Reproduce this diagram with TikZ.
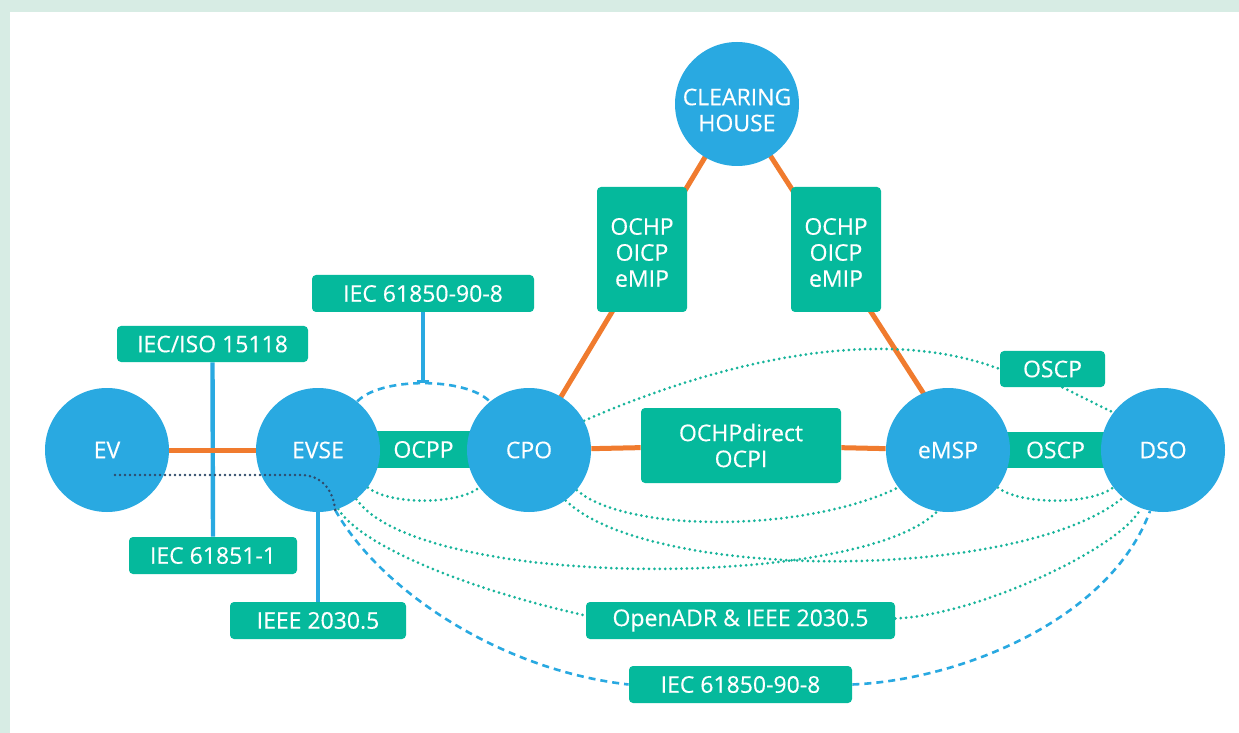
\documentclass[tikz,border=0pt]{standalone}
\usepackage{fontspec}
\setmainfont{Open Sans}
\newfontfamily\diagfont{Open Sans}[FakeBold=0.35]
\usetikzlibrary{arrows.meta}
\definecolor{mint}{HTML}{D7ECE4}
\definecolor{cblue}{HTML}{29A9E1}
\definecolor{cgreen}{HTML}{05B99C}
\definecolor{corange}{HTML}{F07B2E}
\definecolor{cteal}{HTML}{17B49B}
\definecolor{cnavy}{HTML}{2F4B6B}
\pgfdeclarelayer{frame}
\pgfdeclarelayer{lines}
\pgfsetlayers{frame,lines,main}
\begin{document}
\begin{tikzpicture}[x=0.5pt,y=-0.5pt,
  every node/.style={font=\diagfont\fontsize{11.5}{13}\selectfont, text=white, inner sep=0pt, align=center},
  every label/.style={font=\diagfont\fontsize{11.5}{13}\selectfont, text=white, inner sep=0pt, align=center},
  party/.style={circle, fill=cblue, minimum size=62pt},
  proto/.style={rectangle, rounded corners=2pt, fill=cgreen},
  band/.style={rectangle, fill=cgreen},
  link/.style={draw=corange, line width=2.5pt},
  wire/.style={draw=cblue, line width=2.2pt},
  dashwire/.style={draw=cblue, line width=1.3pt, dash pattern=on 3.5pt off 2.5pt},
  dotwire/.style={draw=cteal, line width=1.5pt, dash pattern=on 0pt off 2.7pt, line cap=round},
  navywire/.style={draw=cnavy, line width=1.4pt, dash pattern=on 0pt off 2.5pt, line cap=round}
]
\begin{pgfonlayer}{frame}
\fill[mint] (0,0) rectangle (1239,733);
\fill[white] (10,12) rectangle (1239,733);
\end{pgfonlayer}
\useasboundingbox (0,0) rectangle (1239,733);

% bands
\node[band, minimum width=105.5pt, minimum height=18.5pt] (ocpp) at (423.5,449.5) {OCPP};
\node[band, minimum width=107.5pt, minimum height=18pt] (oscpb) at (1055.5,450) {OSCP};

% parties
\node[party] (ev) at (107,450) {EV};
\node[party] (evse) at (318,450) {EVSE};
\node[party] (cpo) at (529,450) {CPO};
\node[party] (emsp) at (948,450) {eMSP};
\node[party] (dso) at (1163,450) {DSO};
\node[party, label={[yshift=-3pt]center:{CLEARING\\HOUSE}}] (ch) at (737,104) {};

% protocol boxes
\node[proto, minimum width=111pt, minimum height=18.5pt] (iectop) at (423,293.5) {IEC 61850-90-8};
\node[proto, minimum width=95.5pt, minimum height=18pt] (iso) at (212.5,344) {IEC/ISO 15118};
\node[proto, minimum width=84pt, minimum height=18.5pt] (iec61851) at (213,555.5) {IEC 61851-1};
\node[proto, minimum width=88pt, minimum height=18.5pt] (ieee) at (318,620.5) {IEEE 2030.5};
\node[proto, minimum width=100pt, minimum height=37.5pt] (ochpd) at (741,445.5) {OCHPdirect\\OCPI};
\node[proto, minimum width=52.5pt, minimum height=18pt] (oscpt) at (1052.5,369) {OSCP};
\node[proto, minimum width=45pt, minimum height=62.5pt, label={[yshift=-1.5pt]center:{OCHP\\OICP\\eMIP}}] (ochpl) at (642,249.5) {};
\node[proto, minimum width=45pt, minimum height=62.5pt, label={[yshift=-1.5pt]center:{OCHP\\OICP\\eMIP}}] (ochpr) at (836,249.5) {};
\node[proto, minimum width=154.5pt, minimum height=18.5pt] (openadr) at (740.5,620.5) {OpenADR \& IEEE 2030.5};
\node[proto, minimum width=111.5pt, minimum height=18.5pt] (iecbot) at (740.5,684.5) {IEC 61850-90-8};

\coordinate (tbar) at (423,383);
\coordinate (evdot) at (115,475);

\begin{pgfonlayer}{lines}
% blue solid
\draw[wire] (iso.south) -- (iec61851.north);
\draw[wire] (evse.south) -- (ieee.north);
\draw[wire, -{Bar[width=6pt,line width=1.3pt]}] (iectop.south) -- (tbar);
% orange
\draw[link] (ev) -- (evse);
\draw[link] (cpo) -- (ochpd);
\draw[link] (ochpd) -- (emsp);
\draw[link] (cpo.center) -- (ch.center);
\draw[link] (ch.center) -- ([xshift=6pt]emsp.center);
% blue dashed
\draw[dashwire] (evse.51) .. controls (380,377) and (466,377) .. (cpo.129);
\draw[dashwire] (evse.-74) .. controls (380,590) and (500,670) .. (iecbot.west);
\draw[dashwire] (iecbot.east) .. controls (960,680) and (1110,620) .. (dso.-102);
% teal dotted
\draw[dotwire] (evse.-37) .. controls (390,505) and (458,505) .. (cpo.-143);
\draw[dotwire] (emsp.-37) .. controls (1020,505) and (1090,505) .. (dso.-143);
\draw[dotwire] (cpo.28) .. controls (700,370) and (870,320) .. (oscpt.west);
\draw[dotwire] ([xshift=5pt]oscpt.south) -- (dso.143);
\draw[dotwire] (cpo.-40) .. controls (625,533) and (805,533) .. (emsp.-143);
\draw[dotwire] (cpo.-54) .. controls (650,582) and (1020,582) .. (dso.-130);
\draw[dotwire] (evse.-52) .. controls (420,590) and (860,590) .. (emsp.-100);
\draw[dotwire] (evse.-71) .. controls (360,545) and (466,589) .. ([yshift=2.5pt]openadr.west);
\draw[dotwire] ([yshift=1pt]openadr.east) .. controls (980,615) and (1125,545) .. (dso.-111);
\end{pgfonlayer}

% navy dotted over EV and EVSE
\draw[navywire] (evdot) -- (300,475) .. controls (322,475) and (333,490) .. (evse.-74);
\end{tikzpicture}
\end{document}
